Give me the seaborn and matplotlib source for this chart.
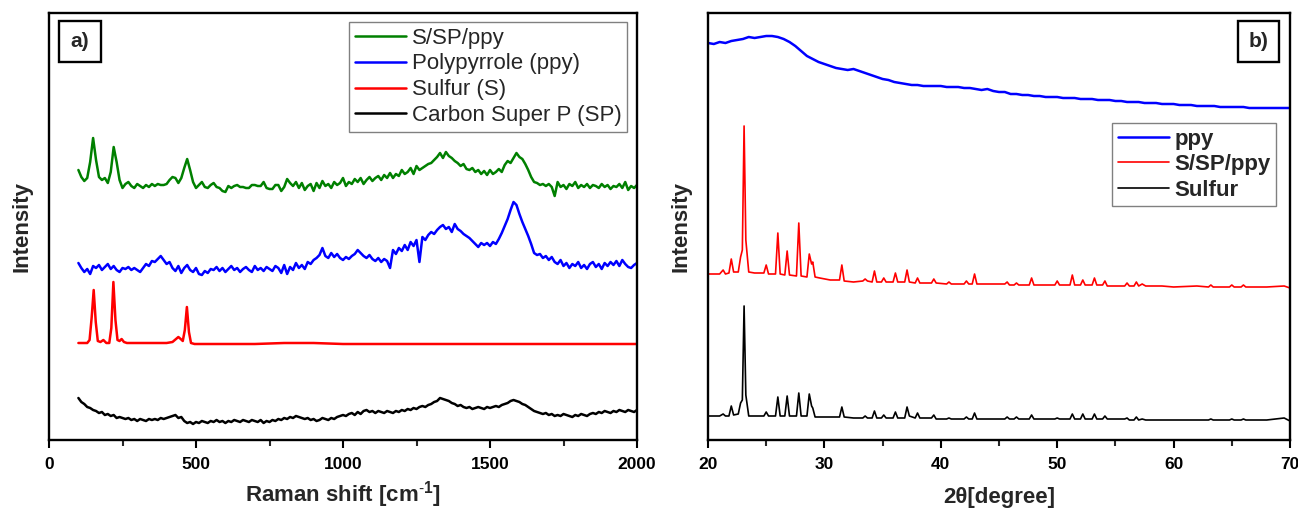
import numpy as np
import pandas as pd
import matplotlib
matplotlib.use("Agg")
import matplotlib.pyplot as plt
from matplotlib.patches import Rectangle
from matplotlib.ticker import MultipleLocator
import seaborn as sns

# ---------------- Raman spectra (panel a), offset intensities in a.u. ----------------
raman_shift = list(range(100, 2001, 10))

raman_s_sp_ppy = [
    270, 263, 259, 262, 278, 302, 280, 263, 260, 262,
    257, 268, 293, 278, 260, 252, 256, 258, 254, 252,
    256, 254, 252, 255, 253, 256, 254, 256, 255, 255,
    256, 260, 263, 262, 257, 262, 272, 281, 270, 258,
    252, 255, 258, 253, 252, 255, 257, 253, 252, 249,
    248, 254, 252, 254, 255, 253, 253, 252, 252, 255,
    255, 254, 254, 258, 252, 251, 251, 255, 255, 249,
    253, 261, 257, 254, 258, 252, 257, 250, 254, 256,
    249, 257, 252, 259, 254, 256, 252, 258, 255, 257,
    262, 254, 258, 256, 261, 258, 262, 256, 260, 263,
    259, 262, 264, 260, 265, 262, 267, 262, 266, 264,
    270, 266, 268, 272, 266, 274, 270, 272, 274, 276,
    277, 280, 283, 287, 282, 288, 284, 282, 279, 277,
    274, 276, 271, 270, 272, 268, 270, 266, 269, 265,
    270, 266, 268, 271, 268, 275, 279, 277, 282, 287,
    283, 281, 276, 270, 263, 258, 257, 255, 256, 254,
    256, 253, 244, 258, 253, 255, 251, 256, 254, 258,
    252, 255, 253, 256, 252, 255, 254, 252, 256, 253,
    255, 251, 254, 253, 256, 252, 258, 250, 254, 252,
    255,
]

raman_ppy = [
    177, 172, 168, 171, 166, 174, 172, 175, 170, 173,
    176, 171, 174, 170, 168, 172, 171, 173, 170, 172,
    170, 168, 172, 176, 174, 179, 178, 181, 184, 180,
    176, 178, 172, 169, 174, 167, 172, 175, 170, 168,
    172, 166, 165, 169, 167, 171, 170, 173, 169, 172,
    168, 171, 174, 170, 172, 168, 171, 173, 170, 168,
    174, 170, 172, 169, 173, 171, 169, 174, 172, 167,
    175, 166, 173, 170, 177, 172, 175, 171, 178, 176,
    180, 182, 185, 192, 184, 182, 187, 183, 186, 182,
    180, 183, 181, 184, 186, 190, 187, 184, 182, 185,
    181, 179, 182, 178, 181, 179, 172, 190, 186, 192,
    189, 195, 190, 198, 194, 200, 178, 203, 200, 205,
    208, 206, 210, 213, 215, 211, 213, 208, 216, 211,
    209, 206, 204, 202, 199, 196, 193, 197, 195, 197,
    194, 198, 196, 201, 207, 214, 221, 230, 238, 235,
    226, 218, 211, 204, 196, 187, 185, 186, 182, 184,
    180, 183, 178, 176, 180, 174, 177, 172, 176, 174,
    178, 172, 175, 171, 176, 178, 173, 176, 171, 177,
    174, 178, 175, 179, 174, 180, 176, 173, 172, 175,
    177,
]

raman_sulfur_shift = [
    100, 110, 120, 130, 138, 145, 152, 159, 166, 175,
    185, 195, 205, 212, 219, 226, 233, 240, 247, 255,
    265, 280, 300, 350, 400, 420, 432, 440, 448, 455,
    462, 469, 476, 483, 495, 520, 600, 700, 800, 850,
    900, 1000, 1200, 1400, 1600, 1800, 2000,
]
raman_sulfur = [
    97, 97, 97, 97, 100, 122, 150, 118, 99, 98,
    100, 97, 97, 112, 158, 120, 100, 99, 101, 98,
    97, 97, 97, 97, 97, 98, 101, 103, 101, 99,
    110, 133, 108, 97, 96, 96, 96, 96, 97, 97,
    97, 96, 96, 96, 96, 96, 96,
]

raman_carbon_sp = [
    42, 38, 36, 33, 32, 30, 29, 27, 28, 25,
    26, 24, 25, 22, 23, 22, 21, 22, 20, 21,
    19, 21, 20, 19, 21, 20, 21, 20, 22, 21,
    22, 23, 24, 25, 22, 23, 19, 17, 18, 16,
    18, 17, 19, 18, 17, 19, 18, 20, 18, 19,
    17, 19, 18, 20, 19, 18, 20, 19, 18, 20,
    19, 18, 20, 17, 19, 18, 20, 19, 21, 20,
    22, 21, 23, 22, 24, 23, 22, 21, 22, 20,
    21, 19, 20, 22, 21, 20, 22, 21, 23, 24,
    25, 24, 26, 27, 25, 28, 26, 29, 30, 28,
    29, 27, 29, 28, 27, 29, 28, 27, 29, 28,
    30, 29, 31, 30, 32, 31, 33, 34, 33, 35,
    36, 38, 39, 42, 41, 40, 39, 37, 36, 34,
    35, 33, 32, 33, 31, 32, 33, 32, 31, 33,
    32, 33, 34, 33, 35, 36, 37, 39, 40, 39,
    38, 36, 35, 33, 31, 29, 28, 27, 26, 27,
    25, 26, 24, 25, 24, 26, 25, 24, 23, 25,
    24, 26, 25, 24, 26, 27, 26, 28, 27, 29,
    28, 27, 29, 28, 30, 29, 28, 30, 29, 28,
    30,
]

# ---------------- XRD patterns (panel b), offset intensities in a.u. ----------------
two_theta_ppy = [round(20 + 0.5 * i, 1) for i in range(101)]
xrd_ppy = [
    397, 396, 398, 397, 399, 400, 401, 403, 402, 403,
    404, 404, 403, 401, 398, 394, 389, 384, 381, 378,
    376, 374, 372, 371, 370, 371, 369, 367, 365, 363,
    361, 360, 358, 357, 356, 355, 355, 354, 354, 354,
    354, 353, 353, 353, 352, 352, 351, 350, 351, 349,
    348, 348, 346, 346, 345, 345, 344, 344, 343, 343,
    343, 342, 342, 342, 341, 341, 341, 340, 340, 340,
    339, 339, 338, 338, 338, 337, 337, 337, 336, 336,
    336, 335, 335, 335, 334, 334, 334, 334, 333, 333,
    333, 333, 333, 332, 332, 332, 332, 332, 332, 332,
    332,
]

two_theta = [
    20.0, 21.0, 21.3, 21.5, 21.8, 22.0, 22.2, 22.6, 22.8, 22.95,
    23.1, 23.25, 23.5, 24.0, 24.8, 25.0, 25.2, 25.8, 26.0, 26.2,
    26.6, 26.8, 27.0, 27.6, 27.8, 28.0, 28.5, 28.7, 28.9, 29.0,
    29.2, 29.6, 30.5, 31.3, 31.5, 31.7, 32.5, 33.3, 33.5, 33.7,
    34.1, 34.3, 34.5, 34.9, 35.1, 35.3, 35.9, 36.1, 36.3, 36.9,
    37.1, 37.3, 37.8, 38.0, 38.2, 39.2, 39.4, 39.6, 40.5, 40.7,
    40.9, 42.0, 42.2, 42.4, 42.7, 42.9, 43.1, 44.0, 45.5, 45.7,
    45.9, 46.3, 46.5, 46.7, 47.6, 47.8, 48.0, 49.8, 50.0, 50.2,
    51.1, 51.3, 51.5, 52.0, 52.2, 52.4, 53.0, 53.2, 53.4, 53.9,
    54.1, 54.3, 55.8, 56.0, 56.2, 56.6, 56.8, 57.0, 57.3, 57.6,
    59.0, 60.0, 62.0, 63.0, 63.2, 63.4, 64.8, 65.0, 65.2, 65.8,
    66.0, 66.2, 68.0, 69.5, 70.0,
]
xrd_s_sp_ppy = [
    166, 166, 170, 166, 167, 181, 168, 168, 183, 190,
    314, 200, 168, 167, 167, 175, 166, 166, 207, 166,
    165, 189, 165, 164, 217, 164, 163, 186, 176, 178,
    163, 162, 160, 160, 175, 159, 158, 159, 161, 159,
    158, 169, 158, 158, 162, 158, 158, 167, 158, 158,
    170, 158, 157, 162, 157, 157, 161, 157, 156, 158,
    156, 156, 159, 156, 156, 166, 156, 156, 156, 158,
    155, 155, 157, 155, 155, 162, 155, 155, 159, 155,
    155, 165, 155, 155, 160, 155, 155, 162, 155, 155,
    159, 154, 154, 157, 154, 154, 158, 154, 156, 154,
    154, 153, 154, 153, 155, 153, 153, 155, 153, 153,
    155, 153, 153, 154, 152,
]
xrd_sulfur = [
    24, 24, 26, 24, 24, 34, 25, 26, 37, 40,
    134, 45, 24, 24, 24, 28, 24, 24, 43, 24,
    24, 44, 24, 24, 47, 24, 24, 46, 34, 32,
    23, 23, 23, 23, 33, 23, 22, 22, 24, 22,
    22, 29, 22, 22, 25, 22, 22, 28, 22, 22,
    33, 24, 22, 27, 22, 22, 25, 21, 21, 22,
    21, 21, 23, 21, 21, 27, 21, 21, 21, 23,
    21, 21, 23, 21, 21, 25, 21, 21, 22, 21,
    21, 26, 21, 21, 26, 21, 21, 26, 21, 21,
    24, 21, 21, 22, 20, 20, 23, 20, 21, 20,
    20, 20, 20, 20, 21, 20, 20, 21, 20, 20,
    21, 20, 20, 22, 19,
]

raman_ticks = [0, 500, 1000, 1500, 2000]
xrd_ticks = [20, 30, 40, 50, 60, 70]

# ---------------- styling ----------------
sns.set_theme(style="white")
plt.rcParams["font.family"] = ["Liberation Sans", "DejaVu Sans"]
plt.rcParams["mathtext.fontset"] = "custom"
plt.rcParams["mathtext.rm"] = "Liberation Sans"
plt.rcParams["mathtext.bf"] = "Liberation Sans:bold"

GREEN, BLUE, RED, BLACK = "#008000", "#0000ff", "#ff0000", "#000000"

fig = plt.figure(figsize=(12.98, 5.11), dpi=100)
ax_a = fig.add_axes([49 / 1298, 71 / 511, 588 / 1298, 427 / 511])
ax_b = fig.add_axes([708 / 1298, 71 / 511, 582 / 1298, 427 / 511])

raman_frames = [
    ("S/SP/ppy", raman_shift, raman_s_sp_ppy, GREEN),
    ("Polypyrrole (ppy)", raman_shift, raman_ppy, BLUE),
    ("Sulfur (S)", raman_sulfur_shift, raman_sulfur, RED),
    ("Carbon Super P (SP)", raman_shift, raman_carbon_sp, BLACK),
]
for name, xs, ys, col in raman_frames:
    df = pd.DataFrame({"shift": xs, "intensity": ys})
    sns.lineplot(data=df, x="shift", y="intensity", ax=ax_a, color=col,
                 lw=1.8, label=name, estimator=None, sort=False)

xrd_frames = [
    ("ppy", two_theta_ppy, xrd_ppy, BLUE, 1.8),
    ("S/SP/ppy", two_theta, xrd_s_sp_ppy, RED, 1.2),
    ("Sulfur", two_theta, xrd_sulfur, BLACK, 1.2),
]
for name, xs, ys, col, lw in xrd_frames:
    df = pd.DataFrame({"angle": xs, "intensity": ys})
    sns.lineplot(data=df, x="angle", y="intensity", ax=ax_b, color=col,
                 lw=lw, label=name, estimator=None, sort=False)

ax_a.set_xlim(0, 2000)
ax_b.set_xlim(20, 70)
for ax, ticks, minor in ((ax_a, raman_ticks, 250), (ax_b, xrd_ticks, 5)):
    ax.set_ylim(0, 427)
    ax.set_xticks(ticks)
    ax.xaxis.set_minor_locator(MultipleLocator(minor))
    ax.set_yticks([])
    for sp in ax.spines.values():
        sp.set_visible(True)
        sp.set_linewidth(1.7)
        sp.set_color("black")
    ax.tick_params(axis="x", which="major", direction="out", length=6, width=1.5,
                   bottom=True, top=False, pad=6, labelsize=12.5, colors="black")
    ax.tick_params(axis="x", which="minor", direction="out", length=4, width=1.5,
                   bottom=True, top=False)
    for lbl in ax.get_xticklabels():
        lbl.set_fontweight("bold")
    ax.set_ylabel("Intensity", fontsize=16, fontweight="bold", labelpad=12)

ax_a.set_xlabel(r"Raman shift [cm$^{\mathbf{\text{-}1}}$]", fontsize=16, fontweight="bold", labelpad=5)
ax_b.set_xlabel("2θ[degree]", fontsize=16, fontweight="bold", labelpad=11)

leg_a = ax_a.legend(loc="upper right", bbox_to_anchor=(0.983, 0.979), borderaxespad=0,
                    fontsize=16, handlelength=2.3, handletextpad=0.25,
                    labelspacing=0.22, borderpad=0.25, fancybox=False,
                    framealpha=1, edgecolor="#808080")
leg_a.get_frame().set_linewidth(1.0)

leg_b = ax_b.legend(loc="upper right", bbox_to_anchor=(0.976, 0.742), borderaxespad=0,
                    prop={"size": 16, "weight": "bold"}, handlelength=2.3,
                    handletextpad=0.25, labelspacing=0.2, borderpad=0.25,
                    fancybox=False, framealpha=1, edgecolor="#808080")
leg_b.get_frame().set_linewidth(1.0)

# panel tags in square frames
for ax, x0, w, tag in ((ax_a, 10 / 588, 42 / 588, "a)"), (ax_b, 530 / 582, 41 / 582, "b)")):
    y0, h = 378 / 427, 41 / 427
    ax.add_patch(Rectangle((x0, y0), w, h, transform=ax.transAxes, fill=False,
                           edgecolor="black", lw=1.7, zorder=5))
    ax.text(x0 + w / 2, y0 + h / 2, tag, transform=ax.transAxes, ha="center",
            va="center", fontsize=15, fontweight="bold", zorder=6)

fig.savefig("out.png", dpi=100)
